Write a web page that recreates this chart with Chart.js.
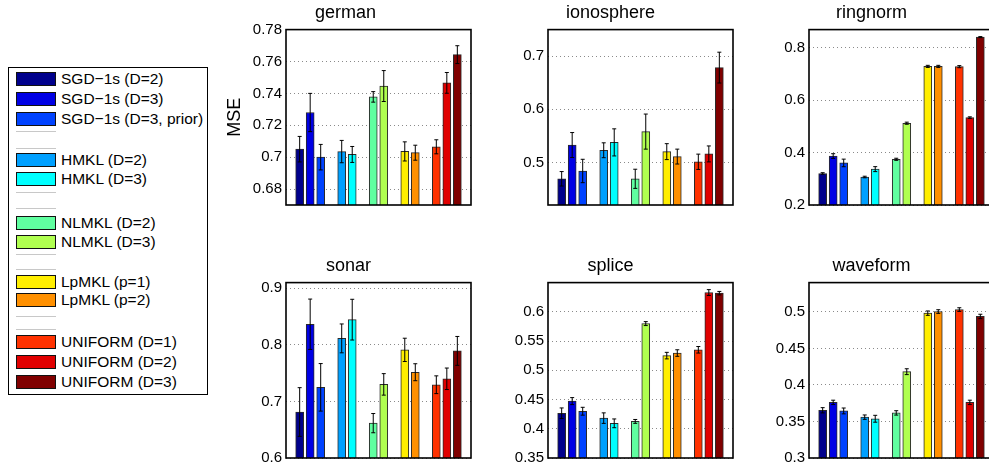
<!DOCTYPE html>
<html>
<head>
<meta charset="utf-8">
<script src="https://cdn.jsdelivr.net/npm/chart.js@4.4.0/dist/chart.umd.min.js"></script>
<style>
body{margin:0;width:989px;height:472px;overflow:hidden;background:#fff;position:relative;font-family:"Liberation Sans",Arial,sans-serif}
canvas{position:absolute}
#legend{position:absolute;left:8px;top:67px;width:198px;height:326px;border:1px solid #000;background:#fff}
.sw{position:absolute;left:7px;width:38px;height:12px;border:1px solid #111}
.lab{position:absolute;left:52px;font-size:15.5px;line-height:18px;color:#000;white-space:nowrap}
.gap{position:absolute;left:7px;width:40px;height:1px;background:#c8c8c8}
</style>
</head>
<body>
<div id="legend"></div>
<canvas id="german" width="253" height="218"></canvas>
<canvas id="ionosphere" width="247" height="218"></canvas>
<canvas id="ringnorm" width="247" height="218"></canvas>
<canvas id="sonar" width="247" height="218"></canvas>
<canvas id="splice" width="247" height="218"></canvas>
<canvas id="waveform" width="247" height="218"></canvas>
<script>
//Methods (one bar each, same order in every panel)
let methods = ["SGD\u22121s (D=2)", "SGD\u22121s (D=3)", "SGD\u22121s (D=3, prior)",
	"HMKL (D=2)", "HMKL (D=3)", "NLMKL (D=2)", "NLMKL (D=3)",
	"LpMKL (p=1)", "LpMKL (p=2)", "UNIFORM (D=1)", "UNIFORM (D=2)", "UNIFORM (D=3)"]

//MSE means and error bars per dataset
let german = [0.705, 0.728, 0.700, 0.7035, 0.7017, 0.7378, 0.7446, 0.7036, 0.7028, 0.7065, 0.7466, 0.7643]
let germanErr = [0.008, 0.012, 0.008, 0.007, 0.005, 0.0033, 0.0097, 0.006, 0.0047, 0.0044, 0.0065, 0.0056]
let ionosphere = [0.4693, 0.5328, 0.484, 0.523, 0.5378, 0.4693, 0.5581, 0.5204, 0.5111, 0.5013, 0.5161, 0.6785]
let ionosphereErr = [0.0136, 0.0235, 0.022, 0.014, 0.0255, 0.018, 0.033, 0.015, 0.014, 0.0144, 0.015, 0.029]
let ringnorm = [0.3204, 0.387, 0.3607, 0.3069, 0.337, 0.3746, 0.5124, 0.7295, 0.7295, 0.7284, 0.5338, 0.8413]
let ringnormErr = [0.003, 0.009, 0.0145, 0.003, 0.0095, 0.004, 0.004, 0.004, 0.004, 0.004, 0.003, 0.002]
let sonar = [0.6813, 0.8364, 0.7249, 0.8114, 0.8445, 0.6616, 0.7301, 0.7911, 0.7516, 0.7295, 0.74, 0.7893]
let sonarErr = [0.043, 0.0445, 0.042, 0.0255, 0.036, 0.017, 0.019, 0.0206, 0.015, 0.0157, 0.019, 0.0255]
let splice = [0.4266, 0.4473, 0.43, 0.4182, 0.4093, 0.4126, 0.5799, 0.5251, 0.5295, 0.5351, 0.633, 0.6319]
let spliceErr = [0.009, 0.006, 0.0067, 0.009, 0.0075, 0.0033, 0.0034, 0.0056, 0.0056, 0.0056, 0.005, 0.003]
let waveform = [0.3653, 0.3761, 0.3644, 0.3559, 0.3537, 0.3617, 0.4181, 0.4982, 0.5004, 0.5031, 0.3761, 0.4937]
let waveformErr = [0.0036, 0.003, 0.004, 0.003, 0.0047, 0.003, 0.004, 0.003, 0.0025, 0.0025, 0.003, 0.003]

//Tick labels per panel
let germanTicks = [0.68, 0.7, 0.72, 0.74, 0.76, 0.78]
let ionosphereTicks = [0.5, 0.6, 0.7]
let ringnormTicks = [0.2, 0.4, 0.6, 0.8]
let sonarTicks = [0.6, 0.7, 0.8, 0.9]
let spliceTicks = [0.35, 0.4, 0.45, 0.5, 0.55, 0.6]
let waveformTicks = [0.3, 0.35, 0.4, 0.45, 0.5]

//Layout / styling
let colors = ['#00008c', '#0000e4', '#0042ff', '#00a0ff', '#00ffff', '#60ffa0',
	'#b0ff50', '#ffee00', '#ff9000', '#ff3200', '#e00000', '#800000']
let slots = [1, 2, 3, 5, 6, 8, 9, 11, 12, 14, 15, 16]
let font = '"Liberation Sans", Arial, sans-serif'

//Legend (html)
let rowY = [11.3, 31.3, 51.3, 92, 111, 155.3, 174.3, 213.7, 232, 273.7, 293.7, 313.7]
let gapY = [63, 80.3, 124.3, 140.3, 186, 201.3, 248, 261.3]
let leg = document.getElementById('legend')
for (let i = 0; i < methods.length; i++) {
	let sw = document.createElement('div')
	sw.className = 'sw'
	sw.style.top = (rowY[i] - 7) + 'px'
	sw.style.background = colors[i]
	leg.appendChild(sw)
	let lab = document.createElement('div')
	lab.className = 'lab'
	lab.style.top = (rowY[i] - 9) + 'px'
	lab.textContent = methods[i]
	leg.appendChild(lab)
}
for (let i = 0; i < gapY.length; i++) {
	let g = document.createElement('div')
	g.className = 'gap'
	g.style.top = gapY[i] + 'px'
	leg.appendChild(g)
}

//Error bars + box around the axes
const errorBars = {
	id: 'errorBars',
	afterDatasetsDraw(chart) {
		const ctx = chart.ctx
		const ys = chart.scales.y
		const ds = chart.data.datasets[0]
		const meta = chart.getDatasetMeta(0)
		ctx.save()
		ctx.strokeStyle = '#000'
		ctx.lineWidth = 1
		meta.data.forEach((bar, i) => {
			let v = ds.data[i].y, e = ds.errs[i]
			let top = ys.getPixelForValue(v + e), bot = ys.getPixelForValue(v - e)
			ctx.beginPath()
			ctx.moveTo(bar.x, top); ctx.lineTo(bar.x, bot)
			ctx.moveTo(bar.x - 2, top); ctx.lineTo(bar.x + 2, top)
			ctx.moveTo(bar.x - 2, bot); ctx.lineTo(bar.x + 2, bot)
			ctx.stroke()
		})
		const a = chart.chartArea
		ctx.lineWidth = 1.6
		ctx.strokeRect(a.left, a.top, a.right - a.left, a.bottom - a.top)
		ctx.restore()
	}
}

function panel(id, title, vals, errs, ticks, min, max, frameLeft, frameTop, yTitle) {
	let yW = yTitle ? 66 : 60
	let cv = document.getElementById(id)
	cv.style.left = (frameLeft - yW) + 'px'
	cv.style.top = (frameTop - 29.6) + 'px'
	new Chart(cv, {
		type: 'bar',
		data: {
			datasets: [{
				data: vals.map((v, i) => ({x: slots[i], y: v})),
				errs: errs,
				backgroundColor: colors,
				borderColor: '#2a2a2a',
				borderWidth: 1,
				barThickness: 8
			}]
		},
		options: {
			responsive: false,
			animation: false,
			layout: {padding: {left: 0, right: 2, top: 0, bottom: 10}},
			plugins: {
				legend: {display: false},
				tooltip: {enabled: false},
				title: {
					display: true, text: title, color: '#000',
					font: {size: 18, family: font, weight: 'normal'},
					padding: {top: 2, bottom: 6}
				}
			},
			scales: {
				x: {type: 'linear', min: -0.3, max: 17.3, offset: false, display: false},
				y: {
					min: min, max: max,
					afterFit: (s) => { s.width = yW },
					afterBuildTicks: (s) => { s.ticks = ticks.map(v => ({value: v})) },
					ticks: {
						color: '#000', padding: 4,
						font: {size: 15, family: font},
						callback: (v) => String(+v.toFixed(2))
					},
					grid: {drawTicks: false, color: '#8a8a8a', lineWidth: 1},
					border: {display: false, dash: [1, 3]},
					title: {
						display: !!yTitle, text: yTitle || '', color: '#000',
						font: {size: 18, family: font},
						padding: {top: 4, bottom: 0}
					}
				}
			}
		},
		plugins: [errorBars]
	})
}

let cols = [286, 548, 809]
let rows = [29.5, 283]
panel('german', 'german', german, germanErr, germanTicks, 0.67, 0.78, cols[0], rows[0], 'MSE')
panel('ionosphere', 'ionosphere', ionosphere, ionosphereErr, ionosphereTicks, 0.42, 0.75, cols[1], rows[0])
panel('ringnorm', 'ringnorm', ringnorm, ringnormErr, ringnormTicks, 0.2, 0.87, cols[2], rows[0])
panel('sonar', 'sonar', sonar, sonarErr, sonarTicks, 0.6, 0.91, cols[0], rows[1])
panel('splice', 'splice', splice, spliceErr, spliceTicks, 0.35, 0.65, cols[1], rows[1])
panel('waveform', 'waveform', waveform, waveformErr, waveformTicks, 0.3, 0.54, cols[2], rows[1])
</script>
</body>
</html>
